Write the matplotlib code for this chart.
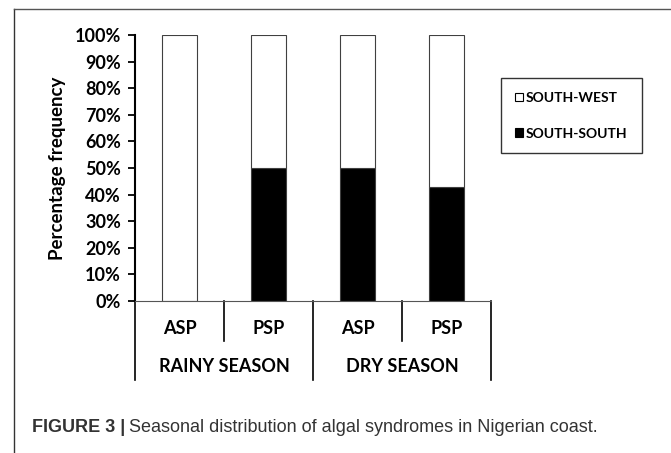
import numpy as np
import matplotlib
matplotlib.use('Agg')
import matplotlib.pyplot as plt
import matplotlib.transforms as mtransforms
from matplotlib.patches import Patch
from matplotlib.lines import Line2D

# data
seasons = ['RAINY SEASON', 'DRY SEASON']
syndromes = ['ASP', 'PSP', 'ASP', 'PSP']
south_south = [0, 50, 50, 42.9]
south_west = [100, 50, 50, 57.1]

plt.rcParams['font.family'] = ['Lato', 'DejaVu Sans']

W, H = 671, 453
fig = plt.figure(figsize=(W / 100, H / 100), dpi=100)

# outer frame (left and top edges only visible)
fig.add_artist(Line2D([14 / W, 14 / W], [0, 1 - 9 / H], transform=fig.transFigure, color='#333333', lw=1.0))
fig.add_artist(Line2D([14 / W, 1], [1 - 9 / H, 1 - 9 / H], transform=fig.transFigure, color='#555555', lw=1.0))

ax = fig.add_axes([135 / W, (H - 301) / H, (491 - 135) / W, (301 - 35) / H])

x = np.arange(len(syndromes)) + 0.5
bw = 0.4
ax.bar(x, south_south, bw, color='black', edgecolor='#404040', lw=0.8, label='SOUTH-SOUTH')
ax.bar(x, south_west, bw, bottom=south_south, color='white', edgecolor='#404040', lw=0.8, label='SOUTH-WEST')

ax.set_xlim(0, len(syndromes))
ax.set_ylim(0, 100)
ax.set_yticks(np.arange(0, 101, 10))
ax.set_yticklabels([f'{v}%' for v in range(0, 101, 10)], fontsize=13, fontweight='bold')
ax.tick_params(axis='y', direction='out', length=5, width=1.3, pad=5)
ax.set_xticks([])
for s in ['top', 'right']:
    ax.spines[s].set_visible(False)
ax.spines['left'].set_linewidth(1.5)
ax.spines['bottom'].set_linewidth(0.8)
ax.spines['bottom'].set_color('#555555')
ax.set_ylabel('Percentage frequency', fontsize=13.5, fontweight='bold', labelpad=6)

# category axis below
trans = mtransforms.blended_transform_factory(ax.transData, ax.transAxes)
for i in range(len(syndromes) + 1):
    y_end = -0.297 if i % 2 == 0 else -0.150
    ax.plot([i, i], [0, y_end], transform=trans, color='black', lw=1.2, clip_on=False)
for xi, lab in zip(x, syndromes):
    ax.text(xi, -0.102, lab, transform=trans, ha='center', va='center', fontsize=13, fontweight='bold')
for j, s in enumerate(seasons):
    ax.text(2 * j + 1, -0.248, s, transform=trans, ha='center', va='center', fontsize=13, fontweight='bold')

# legend
handles = [Patch(facecolor='white', edgecolor='black', lw=0.8, label='SOUTH-WEST'),
           Patch(facecolor='black', edgecolor='black', lw=0.8, label='SOUTH-SOUTH')]
leg = fig.legend(handles=handles, loc='upper left', bbox_to_anchor=(501 / W, 1 - 78 / H),
                 borderaxespad=0, frameon=True, fancybox=False, edgecolor='black',
                 prop={'weight': 'bold', 'size': 10}, handlelength=0.6, handleheight=0.6,
                 handletextpad=0.2, labelspacing=1.7, borderpad=1.0)
leg.get_frame().set_linewidth(1.0)

# caption
t1 = fig.text(32 / W, 1 - 428 / H, 'FIGURE 3 |', fontsize=13, fontweight='bold', color='#333333',
              family=['Liberation Sans'], va='center', ha='left')
fig.canvas.draw()
bb = t1.get_window_extent()
fig.text((bb.x1 + 4) / W, 1 - 428 / H, 'Seasonal distribution of algal syndromes in Nigerian coast.',
         fontsize=13, color='#333333', family=['Liberation Sans'], va='center', ha='left')

fig.savefig('out.png', dpi=100)
